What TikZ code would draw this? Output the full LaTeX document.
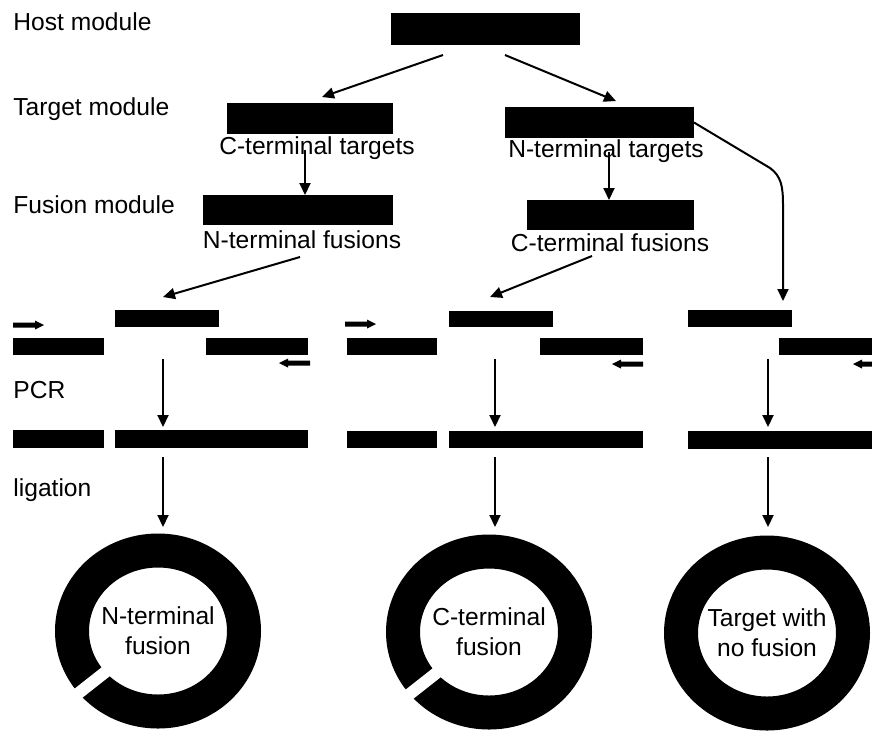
\documentclass[tikz,border=0pt]{standalone}
\usepackage{fontspec}
\setmainfont{Liberation Sans}
\usetikzlibrary{arrows.meta,fit,shapes.geometric}
\newcommand\primerR[2]{\fill (#1,#2) ++(0,-2.5) -- ++(22,0) -- ++(0,-2) -- ++(9,4.5) -- ++(-9,4.5) -- ++(0,-2) -- ++(-22,0) -- cycle;}
\newcommand\primerL[2]{\fill (#1,#2) ++(0,-2.5) -- ++(-22,0) -- ++(0,-2) -- ++(-9,4.5) -- ++(9,4.5) -- ++(0,-2) -- ++(22,0) -- cycle;}
\begin{document}
\begin{tikzpicture}[x=0.5pt,y=-0.5pt,
  bar/.style={fill=black,inner sep=0pt,outer sep=0pt},
  arr/.style={line width=1pt,-{Triangle[length=6pt,width=5.5pt]}},
  lbl/.style={font=\fontsize{12.3pt}{15pt}\selectfont,inner sep=0pt},
  ring/.style={ellipse,draw=black,line width=17pt,minimum width=86pt,minimum height=80.5pt,
    inner sep=0pt,align=center,font=\fontsize{12.3pt}{15pt}\selectfont},
  slit/.style={white,line width=6pt}]
\useasboundingbox (0,0) rectangle (872,730);
% left labels
\node[lbl,anchor=base west] (lhost) at (13,30) {Host module};
\node[lbl,anchor=base west] (ltarget) at (13,115) {Target module};
\node[lbl,anchor=base west] (lfusion) at (13,213) {Fusion module};
\node[lbl,anchor=base west] (lpcr) at (13,398) {PCR};
\node[lbl,anchor=base west] (llig) at (13,496) {ligation};
% module bars
\node[bar,fit={(391,13)(580,45)}] (host) {};
\node[bar,fit={(227,103)(393,134)}] (tL) {};
\node[bar,fit={(505,107)(694,138)}] (tR) {};
\node[bar,fit={(203,195)(393,225)}] (fL) {};
\node[bar,fit={(527,200)(694,230)}] (fR) {};
\node[lbl,anchor=base] (tLtxt) at (317,154) {C-terminal targets};
\node[lbl,anchor=base] (tRtxt) at (606,157) {N-terminal targets};
\node[lbl,anchor=base] (fLtxt) at (302,248) {N-terminal fusions};
\node[lbl,anchor=base] (fRtxt) at (610,251) {C-terminal fusions};
% PCR group left
\node[bar,fit={(115,310)(219,327)}] (pLtop) {};
\node[bar,fit={(13,338)(104,355)}] (pLleft) {};
\node[bar,fit={(206,338)(308,355)}] (pLright) {};
\node[bar,fit={(13,430)(104,448)}] (qLleft) {};
\node[bar,fit={(115,430)(308,448)}] (qLright) {};
\primerR{13}{325}
\primerL{310}{363}
% PCR group middle
\node[bar,fit={(449,311)(553,327)}] (pMtop) {};
\node[bar,fit={(347,338)(437,355)}] (pMleft) {};
\node[bar,fit={(540,338)(643,355)}] (pMright) {};
\node[bar,fit={(347,431)(437,448)}] (qMleft) {};
\node[bar,fit={(449,431)(643,448)}] (qMright) {};
\primerR{345}{324}
\primerL{643}{364}
% PCR group right
\node[bar,fit={(688,310)(792,327)}] (pRtop) {};
\node[bar,fit={(779,338)(872,355)}] (pRright) {};
\node[bar,fit={(688,431)(872,449)}] (qR) {};
\primerL{884}{364}
% rings
\node[ring] (ringL) at (158,631) {N-terminal\\fusion};
\node[ring] (ringM) at (489,632) {C-terminal\\fusion};
\node[ring] (ringR) at (767,633) {Target with\\no fusion};
\draw[slit] ([shift={(-45,35)}]ringL.center) -- ([shift={(-92,72)}]ringL.center);
\draw[slit] ([shift={(-45,35)}]ringM.center) -- ([shift={(-92,72)}]ringM.center);
% connector coordinates
\coordinate (h1) at (443,55);
\coordinate (h2) at (505,55);
\coordinate (tLin) at (322,97);
\coordinate (tRin) at (616,101);
\coordinate (tLout) at (305,150);
\coordinate (fLin) at (305,195);
\coordinate (tRout) at (609,152);
\coordinate (fRin) at (609,200);
\coordinate (fLout) at (300,257);
\coordinate (pLin) at (163,297);
\coordinate (fRout) at (592,256);
\coordinate (pMin) at (490,297);
\coordinate (pRin) at (783,301);
\foreach \n/\x in {L/163,M/495,R/768}{
  \coordinate (a\n) at (\x,359);
  \coordinate (b\n) at (\x,427);
  \coordinate (c\n) at (\x,457);
  \coordinate (d\n) at (\x,527);
}
% connectors
\draw[arr] (h1) -- (tLin);
\draw[arr] (h2) -- (tRin);
\draw[arr] (tLout) -- (fLin);
\draw[arr] (tRout) -- (fRin);
\draw[arr] (fLout) -- (pLin);
\draw[arr] (fRout) -- (pMin);
\draw[arr] (tR.east) -- (770,168) .. controls (781,176) and (783,186) .. (783,205) -- (pRin);
\foreach \n in {L,M,R}{
  \draw[arr] (a\n) -- (b\n);
  \draw[arr] (c\n) -- (d\n);
}
\end{tikzpicture}
\end{document}
